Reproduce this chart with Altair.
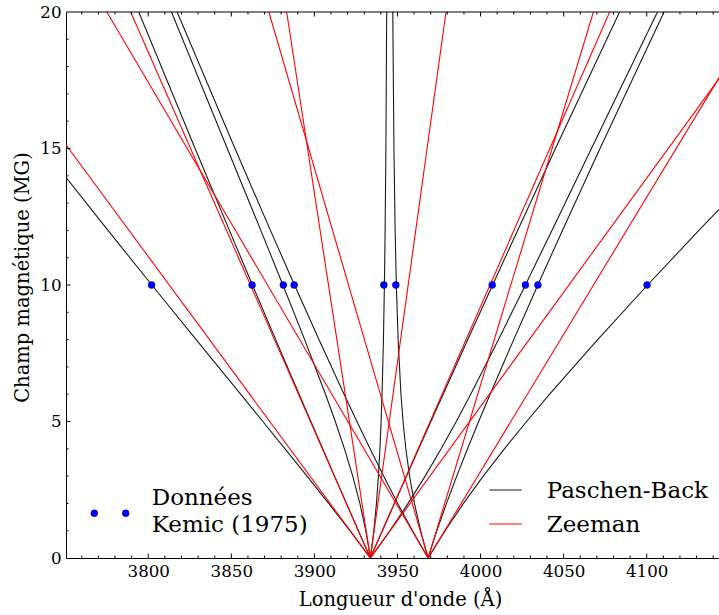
import altair as alt
import pandas as pd

# ---------------- data ----------------
B_FIELD = [0, 0.5, 1, 2, 3, 4, 5, 6, 8, 10, 12, 15, 20]

# Paschen-Back components (wavelength in Angstrom at each B_FIELD value)
PB_01 = [3933.66, 3930.05, 3926.45, 3919.26, 3912.11, 3904.97, 3897.87, 3890.79, 3876.70, 3862.72, 3848.84, 3828.20, 3794.30]
PB_02 = [3933.66, 3934.78, 3935.76, 3937.33, 3938.52, 3939.44, 3940.15, 3940.71, 3941.55, 3942.13, 3942.56, 3943.02, 3943.51]
PB_03 = [3933.66, 3927.57, 3921.35, 3908.59, 3895.55, 3882.31, 3868.98, 3855.59, 3828.82, 3802.18, 3775.76, 3736.66, 3673.02]
PB_04 = [3968.47, 3971.00, 3973.70, 3979.47, 3985.66, 3992.15, 3998.87, 4005.77, 4019.94, 4034.47, 4049.28, 4071.88, 4110.42]
PB_05 = [3968.47, 3963.66, 3959.01, 3950.12, 3941.65, 3933.50, 3925.58, 3917.84, 3902.74, 3888.01, 3873.53, 3852.19, 3817.40]
PB_06 = [3933.66, 3932.37, 3930.90, 3927.37, 3923.06, 3918.08, 3912.57, 3906.67, 3894.13, 3881.05, 3867.73, 3847.57, 3813.98]
PB_07 = [3933.66, 3939.60, 3945.38, 3956.38, 3966.65, 3976.27, 3985.37, 3994.08, 4010.80, 4026.99, 4042.94, 4066.72, 4106.45]
PB_08 = [3968.47, 3966.11, 3963.94, 3960.20, 3957.26, 3955.02, 3953.35, 3952.09, 3950.38, 3949.31, 3948.59, 3947.87, 3947.17]
PB_09 = [3968.47, 3973.47, 3978.66, 3989.70, 4001.62, 4014.32, 4027.69, 4041.57, 4070.49, 4100.51, 4131.37, 4178.94, 4261.27]
PB_10 = [3933.66, 3937.28, 3940.90, 3948.16, 3955.45, 3962.77, 3970.12, 3977.49, 3992.31, 4007.25, 4022.30, 4045.09, 4083.65]
PB_ALL = [PB_01, PB_02, PB_03, PB_04, PB_05, PB_06, PB_07, PB_08, PB_09, PB_10]

# Zeeman components: straight lines from B=0 to B=20
ZEEMAN_B = [0, 20]
ZEEMAN_START = [3933.66, 3933.66, 3933.66, 3933.66, 3933.66, 3933.66, 3968.47, 3968.47, 3968.47, 3968.47]
ZEEMAN_END = [3691.6, 3789.4, 3883.3, 3979.2, 4077.7, 4172.7, 3775.1, 3872.6, 4067.9, 4167.5]

# Kemic (1975) points
KEMIC_WAVE = [3802.0, 3862.5, 3881.3, 3887.8, 3941.8, 3949.0, 4007.0, 4027.0, 4034.5, 4100.2]
KEMIC_B = [10, 10, 10, 10, 10, 10, 10, 10, 10, 10]

# axis ticks
X_MAJOR = [3800, 3850, 3900, 3950, 4000, 4050, 4100]
X_MINOR = [3760, 3770, 3780, 3790, 3810, 3820, 3830, 3840, 3860, 3870, 3880, 3890,
           3910, 3920, 3930, 3940, 3960, 3970, 3980, 3990, 4010, 4020, 4030, 4040,
           4060, 4070, 4080, 4090, 4110, 4120, 4130, 4140]
Y_MAJOR = [0, 5, 10, 15, 20]
Y_MINOR = [1, 2, 3, 4, 6, 7, 8, 9, 11, 12, 13, 14, 16, 17, 18, 19]

X_DOMAIN = [3750.5, 4143.5]
Y_DOMAIN = [0, 20]

# ---------------- tables ----------------
pb_rows = []
for i, arr in enumerate(PB_ALL):
    for b, w in zip(B_FIELD, arr):
        pb_rows.append({"line": i, "B": b, "wave": w})
pb_df = pd.DataFrame(pb_rows)

z_rows = []
for i, (s, e) in enumerate(zip(ZEEMAN_START, ZEEMAN_END)):
    z_rows.append({"line": i, "B": ZEEMAN_B[0], "wave": s})
    z_rows.append({"line": i, "B": ZEEMAN_B[1], "wave": e})
z_df = pd.DataFrame(z_rows)

k_df = pd.DataFrame({"wave": KEMIC_WAVE, "B": KEMIC_B})

W, H = 653, 546
FONT = "DejaVu Serif"
BLACK = "#1a1a1a"
RED = "#ff0000"
BLUE = "#0000ff"

xs = alt.Scale(domain=X_DOMAIN, nice=False, zero=False)
ys = alt.Scale(domain=Y_DOMAIN, nice=False, zero=False)

x_axis = alt.Axis(values=X_MAJOR, ticks=False, tickSize=0, grid=False, format="d",
                  labelFont=FONT, labelFontSize=16.7, labelColor="black", labelPadding=5,
                  domain=True, domainColor="black", domainWidth=1,
                  title="Longueur d'onde (Å)", titleFont=FONT, titleFontSize=19.5,
                  titleFontWeight="normal", titleColor="black",
                  titleX=334, titleY=47.5, titleBaseline="alphabetic", titleAlign="center")
y_axis = alt.Axis(values=Y_MAJOR, ticks=False, tickSize=0, grid=False, format="d",
                  labelFont=FONT, labelFontSize=16.7, labelColor="black", labelPadding=5,
                  domain=True, domainColor="black", domainWidth=1,
                  title="Champ magnétique (MG)", titleFont=FONT, titleFontSize=19.5,
                  titleFontWeight="normal", titleColor="black", titleAngle=270,
                  titleX=-37.7, titleY=265, titleBaseline="alphabetic", titleAlign="center")

def X(field):
    return alt.X(field, scale=xs, axis=x_axis, title="Longueur d'onde (Å)")

def Y(field):
    return alt.Y(field, scale=ys, axis=y_axis, title="Champ magnétique (MG)")

pb_layer = alt.Chart(pb_df).mark_line(color=BLACK, strokeWidth=1.1, clip=True).encode(
    x=X("wave:Q"), y=Y("B:Q"), detail="line:N", order="B:Q",
)

z_layer = alt.Chart(z_df).mark_line(color=RED, strokeWidth=1.1, clip=True).encode(
    x=X("wave:Q"), y=Y("B:Q"), detail="line:N", order="B:Q",
)

k_layer = alt.Chart(k_df).mark_point(filled=True, color=BLUE, size=48, opacity=1,
                                      stroke="#00008b", strokeWidth=0.5, clip=True).encode(
    x=X("wave:Q"), y=Y("B:Q"),
)

# inward ticks (matplotlib classic style)
xmaj = pd.DataFrame({"wave": X_MAJOR})
xmin = pd.DataFrame({"wave": X_MINOR})
ymaj = pd.DataFrame({"B": Y_MAJOR[1:-1]})
ymin = pd.DataFrame({"B": Y_MINOR})

def xticks(df, length, top):
    if top:
        enc = dict(y=alt.value(0), y2=alt.value(length))
    else:
        enc = dict(y=alt.value(H), y2=alt.value(H - length))
    return alt.Chart(df).mark_rule(color="black", strokeWidth=1).encode(x=X("wave:Q"), **enc)

def yticks(df, length):
    return alt.Chart(df).mark_rule(color="black", strokeWidth=1).encode(
        y=Y("B:Q"), x=alt.value(0), x2=alt.value(length))

tick_layers = [
    xticks(xmaj, 4.5, False), xticks(xmin, 2.5, False),
    xticks(xmaj, 4.5, True), xticks(xmin, 2.5, True),
    yticks(ymaj, 4.5), yticks(ymin, 2.5),
]

one = pd.DataFrame({"k": [0]})
top_spine = alt.Chart(one).mark_rule(color="black", strokeWidth=1).encode(
    x=alt.value(0), x2=alt.value(W), y=alt.value(0))

# legends
def leg_dot(x, y):
    return alt.Chart(one).mark_point(filled=True, color=BLUE, size=48, opacity=1,
                                     stroke="#00008b", strokeWidth=0.5).encode(
        x=alt.value(x), y=alt.value(y))

def leg_text(txt, x, y):
    return alt.Chart(one).mark_text(text=txt, font=FONT, fontSize=23, color="black",
                                    align="left", baseline="alphabetic").encode(
        x=alt.value(x), y=alt.value(y))

leg_pb = alt.Chart(one).mark_rule(color=BLACK, strokeWidth=1.1).encode(
    x=alt.value(423.3), x2=alt.value(455.7), y=alt.value(478))
leg_z = alt.Chart(one).mark_rule(color=RED, strokeWidth=1.1).encode(
    x=alt.value(423.3), x2=alt.value(455.7), y=alt.value(512))

legend_layers = [
    leg_dot(28.3, 501.3), leg_dot(59.7, 501.3),
    leg_text("Données", 85.7, 493),
    leg_text("Kemic (1975)", 85.7, 519.7),
    leg_pb, leg_z,
    leg_text("Paschen-Back", 480.7, 486.3),
    leg_text("Zeeman", 480.7, 519.7),
]

chart = alt.layer(pb_layer, z_layer, k_layer, top_spine, *tick_layers, *legend_layers).properties(
    width=W, height=H,
    padding={"left": 66, "top": 12, "right": 0, "bottom": 57},
    autosize=alt.AutoSizeParams(type="none"),
    background="white",
).configure_view(stroke=None)

chart.save("out.html", embed_options={"renderer": "svg", "actions": False})
